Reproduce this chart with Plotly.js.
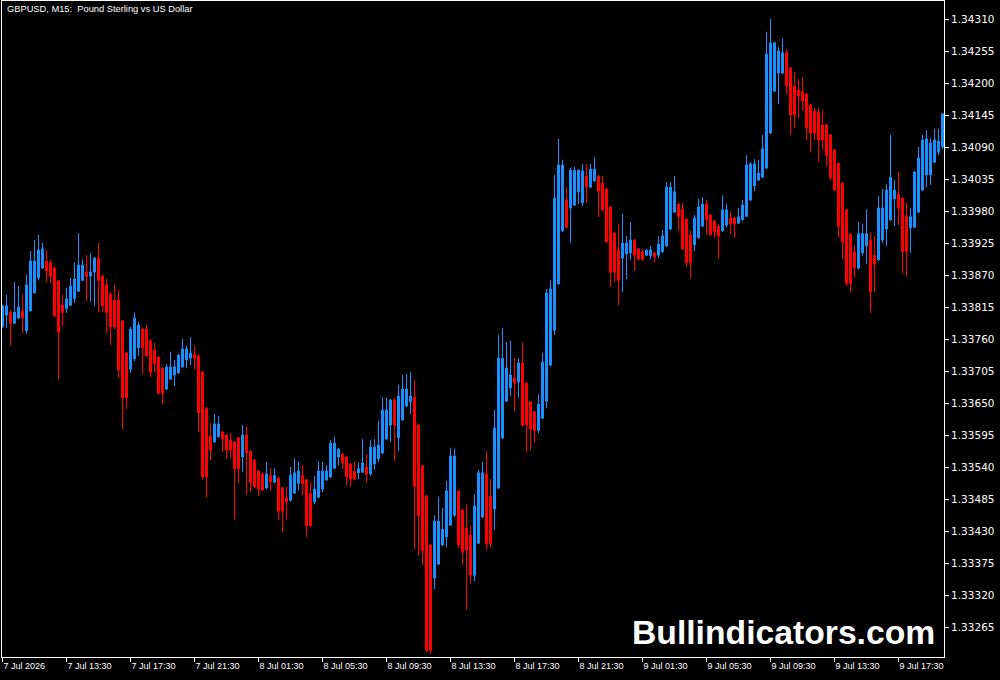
<!DOCTYPE html>
<html><head><meta charset="utf-8">
<script src="https://cdn.plot.ly/plotly-3.0.1.min.js"></script>
<style>html,body{margin:0;padding:0;background:#000;overflow:hidden}#chart{width:1000px;height:680px}</style>
</head><body><div id="chart"></div>
<script>
const symbolTitle = "GBPUSD, M15:\u00a0 Pound Sterling vs US Dollar";
const watermark = "Bullindicators.com";
const startTime = "2026-07-07T09:30:00";

const open = [1.33781,1.33801,1.33806,1.33787,1.33796,1.33808,1.33774,1.33808,1.33839,1.33865,
1.33882,1.33894,1.33891,1.33882,1.33860,1.33818,1.33812,1.33818,1.33829,1.33842,
1.33861,1.33875,1.33868,1.33875,1.33899,1.33868,1.33853,1.33837,1.33827,1.33827,
1.33791,1.33736,1.33708,1.33726,1.33745,1.33777,1.33777,1.33757,1.33741,1.33729,
1.33710,1.33674,1.33691,1.33698,1.33702,1.33712,1.33724,1.33727,1.33734,1.33731,
1.33703,1.33641,1.33593,1.33583,1.33592,1.33600,1.33595,1.33586,1.33583,1.33590,
1.33557,1.33595,1.33567,1.33552,1.33533,1.33528,1.33504,1.33525,1.33514,1.33521,
1.33504,1.33487,1.33483,1.33495,1.33512,1.33525,1.33518,1.33494,1.33480,1.33488,
1.33502,1.33518,1.33523,1.33538,1.33557,1.33562,1.33557,1.33545,1.33533,1.33530,
1.33531,1.33540,1.33528,1.33545,1.33554,1.33564,1.33588,1.33612,1.33655,1.33590,
1.33621,1.33645,1.33652,1.33660,1.33612,1.33542,1.33490,1.33406,1.33349,1.33373,
1.33406,1.33420,1.33440,1.33457,1.33499,1.33466,1.33435,1.33423,1.33354,1.33409,
1.33454,1.33528,1.33490,1.33468,1.33504,1.33590,1.33653,1.33676,1.33693,1.33686,
1.33719,1.33684,1.33652,1.33635,1.33603,1.33624,1.33653,1.33715,1.33775,1.33855,
1.33946,1.33999,1.33985,1.33990,1.34013,1.33994,1.34040,1.34021,1.34032,1.34040,
1.34028,1.34018,1.33987,1.33942,1.33913,1.33899,1.33906,1.33908,1.33930,1.33915,
1.33910,1.33904,1.33903,1.33908,1.33904,1.33910,1.33920,1.33949,1.33978,1.33992,
1.33983,1.33966,1.33939,1.33922,1.33934,1.33954,1.33992,1.33973,1.33963,1.33954,
1.33946,1.33956,1.33968,1.33968,1.33959,1.33965,1.33971,1.33999,1.34023,1.34033,
1.34038,1.34054,1.34114,1.34186,1.34217,1.34217,1.34252,1.34226,1.34195,1.34188,
1.34185,1.34181,1.34162,1.34152,1.34150,1.34128,1.34128,1.34111,1.34085,1.34062,
1.34028,1.33982,1.33940,1.33910,1.33882,1.33908,1.33920,1.33930,1.33904,1.33896,
1.33930,1.33949,1.33965,1.34001,1.34009,1.34002,1.33971,1.33951,1.33952,1.33978,
1.34016,1.34042,1.34042,1.34064,1.34081,1.34090];

const high = [1.33818,1.33836,1.33810,1.33858,1.33851,1.33837,1.33870,1.33911,1.33930,1.33939,
1.33925,1.33913,1.33896,1.33884,1.33861,1.33836,1.33848,1.33865,1.33892,1.33942,
1.33897,1.33904,1.33908,1.33901,1.33925,1.33870,1.33863,1.33841,1.33853,1.33844,
1.33793,1.33738,1.33781,1.33806,1.33789,1.33779,1.33784,1.33760,1.33753,1.33731,
1.33712,1.33717,1.33738,1.33724,1.33734,1.33760,1.33748,1.33763,1.33748,1.33734,
1.33705,1.33643,1.33616,1.33631,1.33628,1.33602,1.33597,1.33598,1.33585,1.33592,
1.33612,1.33610,1.33569,1.33554,1.33535,1.33531,1.33549,1.33538,1.33538,1.33523,
1.33506,1.33506,1.33540,1.33555,1.33549,1.33543,1.33519,1.33514,1.33525,1.33550,
1.33549,1.33543,1.33586,1.33592,1.33573,1.33564,1.33559,1.33547,1.33550,1.33547,
1.33588,1.33562,1.33586,1.33588,1.33619,1.33660,1.33659,1.33657,1.33659,1.33681,
1.33698,1.33700,1.33703,1.33690,1.33614,1.33543,1.33492,1.33408,1.33457,1.33489,
1.33470,1.33516,1.33573,1.33571,1.33500,1.33468,1.33476,1.33440,1.33494,1.33535,
1.33549,1.33567,1.33519,1.33638,1.33767,1.33779,1.33755,1.33757,1.33727,1.33727,
1.33755,1.33686,1.33653,1.33636,1.33665,1.33736,1.33846,1.33861,1.34042,1.34104,
1.34068,1.34021,1.34054,1.34056,1.34052,1.34061,1.34061,1.34061,1.34073,1.34042,
1.34040,1.34020,1.33989,1.33944,1.33958,1.33975,1.33937,1.33961,1.33932,1.33916,
1.33915,1.33915,1.33920,1.33910,1.33937,1.33947,1.34030,1.34030,1.34040,1.33994,
1.33994,1.33968,1.33947,1.33973,1.34001,1.34004,1.33999,1.33975,1.33965,1.33958,
1.34007,1.33992,1.33978,1.33970,1.33985,1.33999,1.34076,1.34064,1.34069,1.34068,
1.34111,1.34288,1.34310,1.34270,1.34262,1.34276,1.34258,1.34227,1.34219,1.34207,
1.34210,1.34183,1.34164,1.34157,1.34157,1.34152,1.34130,1.34112,1.34087,1.34064,
1.34030,1.33983,1.33942,1.33922,1.33961,1.33958,1.33983,1.33944,1.33937,1.34006,
1.34018,1.34026,1.34111,1.34033,1.34047,1.34004,1.33994,1.33985,1.34049,1.34090,
1.34111,1.34119,1.34105,1.34121,1.34121,1.34148];

const low = [1.33779,1.33779,1.33748,1.33787,1.33794,1.33769,1.33769,1.33808,1.33839,1.33861,
1.33880,1.33858,1.33856,1.33798,1.33691,1.33782,1.33805,1.33817,1.33822,1.33841,
1.33860,1.33825,1.33824,1.33817,1.33806,1.33806,1.33769,1.33750,1.33777,1.33693,
1.33605,1.33640,1.33702,1.33722,1.33731,1.33700,1.33729,1.33695,1.33703,1.33664,
1.33648,1.33672,1.33690,1.33679,1.33700,1.33710,1.33710,1.33715,1.33708,1.33600,
1.33519,1.33487,1.33552,1.33581,1.33590,1.33566,1.33554,1.33557,1.33449,1.33512,
1.33531,1.33492,1.33497,1.33504,1.33490,1.33499,1.33502,1.33499,1.33512,1.33449,
1.33428,1.33449,1.33480,1.33494,1.33500,1.33492,1.33420,1.33437,1.33476,1.33487,
1.33497,1.33516,1.33521,1.33537,1.33543,1.33537,1.33509,1.33506,1.33518,1.33519,
1.33530,1.33514,1.33525,1.33535,1.33549,1.33562,1.33586,1.33583,1.33550,1.33567,
1.33619,1.33643,1.33631,1.33399,1.33387,1.33372,1.33222,1.33219,1.33330,1.33372,
1.33404,1.33402,1.33439,1.33454,1.33401,1.33372,1.33294,1.33339,1.33344,1.33408,
1.33452,1.33397,1.33402,1.33432,1.33502,1.33588,1.33652,1.33662,1.33636,1.33659,
1.33609,1.33566,1.33569,1.33581,1.33598,1.33622,1.33641,1.33713,1.33767,1.33853,
1.33944,1.33951,1.33925,1.33989,1.33992,1.33989,1.33994,1.34020,1.34030,1.33970,
1.33980,1.33925,1.33849,1.33858,1.33818,1.33841,1.33863,1.33896,1.33877,1.33896,
1.33894,1.33903,1.33897,1.33891,1.33899,1.33908,1.33918,1.33947,1.33977,1.33946,
1.33913,1.33884,1.33865,1.33911,1.33932,1.33952,1.33939,1.33937,1.33934,1.33899,
1.33944,1.33952,1.33940,1.33934,1.33958,1.33963,1.33970,1.33997,1.34014,1.34032,
1.34037,1.34052,1.34112,1.34185,1.34164,1.34215,1.34181,1.34111,1.34123,1.34140,
1.34152,1.34102,1.34081,1.34102,1.34064,1.34085,1.34057,1.34033,1.34014,1.33934,
1.33897,1.33851,1.33841,1.33865,1.33879,1.33903,1.33889,1.33805,1.33841,1.33894,
1.33925,1.33920,1.33963,1.33954,1.33956,1.33873,1.33867,1.33908,1.33951,1.33977,
1.34014,1.34021,1.34025,1.34062,1.34076,1.34087];

const close = [1.33817,1.33817,1.33787,1.33806,1.33815,1.33796,1.33853,1.33894,1.33894,1.33913,
1.33915,1.33877,1.33868,1.33800,1.33772,1.33806,1.33829,1.33851,1.33863,1.33887,
1.33887,1.33867,1.33875,1.33899,1.33861,1.33817,1.33806,1.33781,1.33781,1.33707,
1.33659,1.33659,1.33777,1.33796,1.33784,1.33745,1.33731,1.33703,1.33717,1.33667,
1.33667,1.33712,1.33712,1.33712,1.33732,1.33743,1.33743,1.33736,1.33727,1.33633,
1.33523,1.33523,1.33569,1.33614,1.33614,1.33588,1.33569,1.33569,1.33537,1.33537,
1.33595,1.33564,1.33514,1.33506,1.33502,1.33500,1.33528,1.33514,1.33525,1.33464,
1.33464,1.33480,1.33526,1.33530,1.33533,1.33511,1.33439,1.33439,1.33502,1.33533,
1.33533,1.33533,1.33581,1.33581,1.33571,1.33547,1.33523,1.33519,1.33519,1.33537,
1.33547,1.33528,1.33574,1.33574,1.33578,1.33638,1.33638,1.33655,1.33612,1.33662,
1.33674,1.33674,1.33662,1.33507,1.33456,1.33396,1.33225,1.33224,1.33447,1.33447,
1.33433,1.33499,1.33559,1.33559,1.33406,1.33394,1.33397,1.33354,1.33473,1.33530,
1.33530,1.33408,1.33408,1.33607,1.33727,1.33727,1.33710,1.33698,1.33684,1.33719,
1.33612,1.33612,1.33605,1.33602,1.33648,1.33720,1.33839,1.33846,1.34002,1.34059,
1.34059,1.33952,1.34050,1.34050,1.34050,1.34049,1.34021,1.34052,1.34052,1.34014,
1.33982,1.33927,1.33875,1.33875,1.33861,1.33925,1.33925,1.33930,1.33904,1.33897,
1.33897,1.33913,1.33913,1.33901,1.33923,1.33937,1.34021,1.34021,1.34013,1.33971,
1.33915,1.33891,1.33891,1.33968,1.33987,1.33992,1.33965,1.33939,1.33944,1.33937,
1.33982,1.33982,1.33958,1.33958,1.33970,1.33990,1.34059,1.34061,1.34061,1.34045,
1.34087,1.34250,1.34269,1.34269,1.34255,1.34252,1.34195,1.34145,1.34145,1.34178,
1.34169,1.34123,1.34114,1.34114,1.34102,1.34102,1.34075,1.34037,1.34016,1.33954,
1.33927,1.33855,1.33855,1.33882,1.33941,1.33941,1.33941,1.33841,1.33889,1.33985,
1.33985,1.34016,1.34038,1.34016,1.33985,1.33910,1.33910,1.33970,1.34047,1.34071,
1.34102,1.34104,1.34097,1.34102,1.34100,1.34147];

const priceTicks = [1.34310,1.34255,1.34200,1.34145,1.34090,1.34035,1.33980,1.33925,1.33870,1.33815,
1.33760,1.33705,1.33650,1.33595,1.33540,1.33485,1.33430,1.33375,1.33320,1.33265];
const timeTickBars = [0,16,32,48,64,80,96,112,128,144,160,176,192,208,224];
const timeTickLabels = ["7 Jul 2026","7 Jul 13:30","7 Jul 17:30","7 Jul 21:30","8 Jul 01:30","8 Jul 05:30",
"8 Jul 09:30","8 Jul 13:30","8 Jul 17:30","8 Jul 21:30","9 Jul 01:30","9 Jul 05:30","9 Jul 09:30",
"9 Jul 13:30","9 Jul 17:30"];

const BAR_MS = 15 * 60 * 1000;
const t0 = Date.parse(startTime + "Z");
const fmt = ms => new Date(ms).toISOString().slice(0, 19).replace("T", " ");
const times = open.map((_, i) => fmt(t0 + i * BAR_MS));

// plot geometry (pixels)
const W = 1000, H = 680;
const M = {l: 2, r: 56, t: 1, b: 23};
const plotW = W - M.l - M.r, plotH = H - M.t - M.b;
// price scale: 32 px per 0.00055, 1.34310 at y = 19
const pxPrice = y => 1.34310 - (y - 19) * 0.00055 / 32;
const yRange = [pxPrice(H - M.b), pxPrice(M.t)];
const firstBarX = 2.5, barPx = 4;
const xStart = (M.l - firstBarX) / barPx;
const xEnd = xStart + plotW / barPx;

const FONT = "Liberation Sans, Arial, sans-serif";
const PFONT = "DejaVu Sans, Liberation Sans, sans-serif";

const trace = {
  type: "candlestick",
  x: times, open: open, high: high, low: low, close: close,
  increasing: {line: {color: "#1E90FF", width: 1}, fillcolor: "#1E90FF"},
  decreasing: {line: {color: "#FF0000", width: 1}, fillcolor: "#FF0000"},
  whiskerwidth: 0,
  hoverinfo: "skip"
};

const layout = {
  width: W, height: H,
  margin: M,
  paper_bgcolor: "#000", plot_bgcolor: "#000",
  showlegend: false,
  boxgap: 0.3, boxgroupgap: 0.3,
  xaxis: {
    type: "date",
    range: [fmt(t0 + xStart * BAR_MS), fmt(t0 + xEnd * BAR_MS)],
    rangeslider: {visible: false},
    tickvals: timeTickBars.map(i => times[i]),
    ticktext: timeTickLabels,
    ticks: "outside", ticklen: 4, tickcolor: "#fff", tickwidth: 1,
    ticklabelposition: "outside right",
    tickfont: {family: FONT, size: 9, color: "#fff"},
    showline: true, linecolor: "#fff", linewidth: 1, mirror: true,
    showgrid: false, zeroline: false
  },
  yaxis: {
    side: "right",
    range: yRange,
    tickvals: priceTicks,
    tickformat: ".5f",
    ticks: "outside", ticklen: 4, tickcolor: "#fff", tickwidth: 1,
    tickfont: {family: PFONT, size: 10.5, color: "#fff"},
    showline: true, linecolor: "#fff", linewidth: 1, mirror: true,
    showgrid: false, zeroline: false
  },
  annotations: [
    {text: symbolTitle, xref: "paper", yref: "paper",
     x: (5 - M.l) / plotW, y: (H - M.b - 9) / plotH, xanchor: "left", yanchor: "middle",
     showarrow: false, font: {family: FONT, size: 9.3, color: "#fff"}},
    {text: watermark, xref: "paper", yref: "paper",
     x: (630 - M.l) / plotW, y: (H - M.b - 632) / plotH, xanchor: "left", yanchor: "middle",
     showarrow: false, font: {family: FONT, size: 33.7, color: "#fff", weight: "bold"}}
  ]
};

Plotly.newPlot("chart", [trace], layout, {staticPlot: true, displayModeBar: false});
</script>
</body></html>
